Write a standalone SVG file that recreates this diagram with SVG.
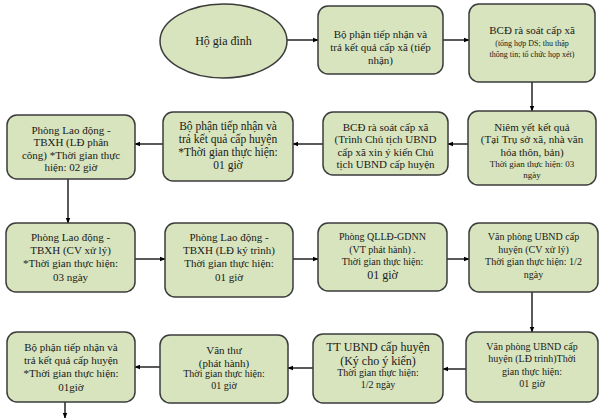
<svg xmlns="http://www.w3.org/2000/svg" width="599" height="418" viewBox="0 0 599 418">
<style>
.n{fill:#d7e4bd;stroke:#3b3b3b;stroke-width:1.5}
text{font-family:"Liberation Serif","Times New Roman",serif;fill:#1a1a1a;text-anchor:middle;font-size:11px}
.s9{font-size:9px}.s8{font-size:8px}.s10{font-size:10px}.s12{font-size:12px}.s115{font-size:11.5px}
.c line{stroke:#000;stroke-width:1.3;marker-end:url(#a)}
</style>
<defs>
<marker id="a" viewBox="0 0 10 10" refX="9" refY="5" markerWidth="6" markerHeight="6" markerUnits="userSpaceOnUse" orient="auto"><path d="M0,1 L10,5 L0,9 z" fill="#000"/></marker>
</defs>
<rect width="599" height="418" fill="#fff"/>
<g class="c">
<line x1="287" y1="40" x2="318" y2="40"/>
<line x1="443" y1="40" x2="469" y2="40"/>
<line x1="532" y1="82" x2="532" y2="111"/>
<line x1="468" y1="144" x2="448" y2="144"/>
<line x1="323" y1="144" x2="293" y2="144"/>
<line x1="163" y1="144" x2="135" y2="144"/>
<line x1="68" y1="179" x2="68" y2="223"/>
<line x1="135" y1="259" x2="165" y2="259"/>
<line x1="293" y1="259" x2="318" y2="259"/>
<line x1="447" y1="259" x2="469" y2="259"/>
<line x1="532" y1="292" x2="532" y2="332"/>
<line x1="466" y1="369" x2="443" y2="369"/>
<line x1="313" y1="368" x2="288" y2="368"/>
<line x1="160" y1="367" x2="135" y2="367"/>
<line x1="65" y1="402" x2="65" y2="418"/>
</g>
<g id="n1"><ellipse class="n" cx="223.5" cy="41" rx="63.5" ry="37"/><text x="223.5" y="45" class="s12">Hộ gia đình</text></g>
<g id="n2"><rect class="n" x="318" y="6" width="125" height="68" rx="10"/>
<text x="380.5" y="38">Bộ phận tiếp nhận và</text><text x="380.5" y="51">trả kết quả cấp xã (tiếp</text><text x="380.5" y="64">nhận)</text></g>
<g id="n3"><rect class="n" x="469" y="4" width="126" height="78" rx="10"/>
<text x="532" y="34">BCĐ rà soát cấp xã</text><text x="532" y="46" class="s8">(tổng hợp DS; thu thập</text><text x="532" y="57" class="s8">thông tin; tổ chức họp xét)</text></g>
<g id="n4"><rect class="n" x="468" y="111" width="128" height="74" rx="10"/>
<text x="532" y="131">Niêm yết kết quả</text><text x="532" y="143">(Tại Trụ sở xã, nhà văn</text><text x="532" y="156">hóa thôn, bản)</text><text x="532" y="167" class="s9">Thời gian thực hiện:  03</text><text x="532" y="178" class="s9">ngày</text></g>
<g id="n5"><rect class="n" x="323" y="112" width="125" height="63" rx="10"/>
<text x="385.5" y="131">BCĐ rà soát cấp xã</text><text x="385.5" y="143">(Trình Chủ tịch UBND</text><text x="385.5" y="156">cấp xã xin ý kiến Chủ</text><text x="385.5" y="168">tịch UBND cấp huyện</text></g>
<g id="n6"><rect class="n" x="163" y="112" width="130" height="69" rx="10"/>
<text x="228" y="130" class="s115">Bộ phận tiếp nhận và</text><text x="228" y="143" class="s115">trả kết quả cấp huyện</text><text x="228" y="156" class="s115">*Thời gian thực hiện:</text><text x="228" y="169" class="s115">01 giờ</text></g>
<g id="n7"><rect class="n" x="7" y="115" width="128" height="64" rx="10"/>
<text x="71" y="134">Phòng Lao động -</text><text x="71" y="146">TBXH (LĐ phân</text><text x="71" y="159">công) *Thời gian thực</text><text x="71" y="171">hiện:  02 giờ</text></g>
<g id="n8"><rect class="n" x="6" y="223" width="129" height="69" rx="10"/>
<text x="70.5" y="241">Phòng Lao động -</text><text x="70.5" y="254">TBXH (CV xử lý)</text><text x="70.5" y="267">*Thời gian thực hiện:</text><text x="70.5" y="281">03 ngày</text></g>
<g id="n9"><rect class="n" x="165" y="223" width="128" height="74" rx="10"/>
<text x="229" y="241">Phòng Lao động -</text><text x="229" y="254">TBXH (LĐ ký trình)</text><text x="229" y="267">Thời gian thực hiện:</text><text x="229" y="281">01 giờ</text></g>
<g id="n10"><rect class="n" x="318" y="223" width="129" height="68" rx="10"/>
<text x="382.5" y="240" class="s10">Phòng QLLĐ-GDNN</text><text x="382.5" y="253" class="s10">(VT phát hành) .</text><text x="382.5" y="265" class="s10">Thời gian thực hiện:</text><text x="382.5" y="279" class="s12">01 giờ</text></g>
<g id="n11"><rect class="n" x="469" y="223" width="129" height="69" rx="10"/>
<text x="533.5" y="240" class="s10">Văn phòng UBND cấp</text><text x="533.5" y="253" class="s10">huyện (CV xử lý)</text><text x="533.5" y="265" class="s10">Thời gian thực hiện: 1/2</text><text x="533.5" y="278" class="s10">ngày</text></g>
<g id="n12"><rect class="n" x="466" y="332" width="132" height="70" rx="10"/>
<text x="532" y="350" class="s10">Văn phòng UBND cấp</text><text x="532" y="362" class="s10">huyện (LĐ trình)Thời</text><text x="532" y="375" class="s10">gian thực hiện:</text><text x="532" y="387" class="s10">01 giờ</text></g>
<g id="n13"><rect class="n" x="313" y="334" width="130" height="69" rx="10"/>
<text x="378" y="351" class="s12">TT UBND cấp huyện</text><text x="378" y="365" class="s12">(Ký cho ý kiến)</text><text x="378" y="376" class="s10">Thời gian thực hiện:</text><text x="378" y="388" class="s10">1/2 ngày</text></g>
<g id="n14"><rect class="n" x="160" y="335" width="128" height="68" rx="10"/>
<text x="224" y="354">Văn thư</text><text x="224" y="367">(phát hành)</text><text x="224" y="377" class="s10">Thời gian thực hiện:</text><text x="224" y="389" class="s10">01 giờ</text></g>
<g id="n15"><rect class="n" x="7" y="332" width="128" height="70" rx="10"/>
<text x="71" y="351">Bộ phận tiếp nhận và</text><text x="71" y="364">trả kết quả cấp huyện</text><text x="71" y="377">*Thời gian thực hiện:</text><text x="71" y="391">01giờ</text></g>
</svg>
